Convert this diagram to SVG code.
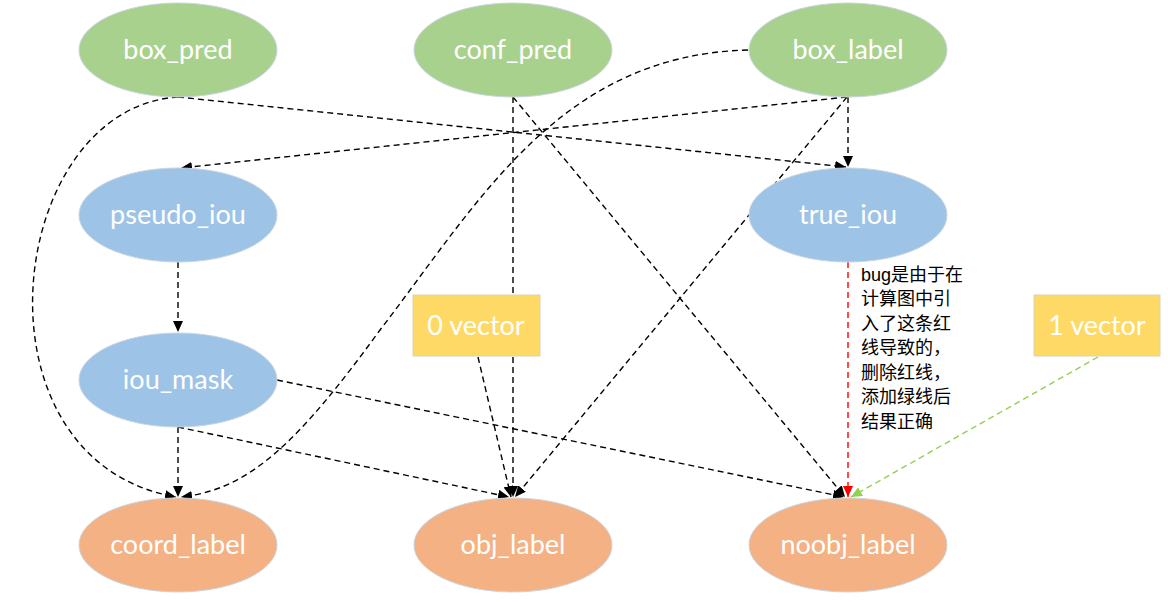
<svg xmlns="http://www.w3.org/2000/svg" width="1168" height="602" viewBox="0 0 1168 602">
<style>
.n ellipse{stroke:#c8d4e0;stroke-width:1}
.g{fill:#A9D18E}.b{fill:#9DC3E6}.o{fill:#F4B183}
.t{font-family:Lato,"Liberation Sans",sans-serif;font-size:27px;fill:#fff;text-anchor:middle}
.c path,.c line{fill:none;stroke:#000;stroke-width:1.4;stroke-dasharray:6,4}
.vec{fill:#FFD966;stroke:#d9d2b8;stroke-width:1}
.note{font-family:"Liberation Sans","Noto Sans CJK SC",sans-serif;font-size:18px;fill:#000}
</style>
<defs>
<marker id="ah" markerUnits="userSpaceOnUse" markerWidth="12" markerHeight="10" refX="11" refY="5" orient="auto"><path d="M0,0 L11,5 L0,10 z" fill="#000"/></marker>
<marker id="ahr" markerUnits="userSpaceOnUse" markerWidth="12" markerHeight="10" refX="11" refY="5" orient="auto"><path d="M0,0 L11,5 L0,10 z" fill="#FF0000"/></marker>
<marker id="ahg" markerUnits="userSpaceOnUse" markerWidth="12" markerHeight="10" refX="11" refY="5" orient="auto"><path d="M0,0 L11,5 L0,10 z" fill="#92D050"/></marker>
</defs>
<rect width="1168" height="602" fill="#fff"/>
<g class="c" id="connectors">
<line x1="178" y1="97" x2="846" y2="167" marker-end="url(#ah)"/>
<path d="M178,97 C5,108 -35,460 176,497" marker-end="url(#ah)"/>
<line x1="847" y1="97" x2="181" y2="168" marker-end="url(#ah)"/>
<line x1="848" y1="97" x2="848" y2="167" marker-end="url(#ah)"/>
<line x1="847" y1="97" x2="515" y2="497" marker-end="url(#ah)"/>
<path d="M748,50 C560,55 480,200 380,330 C300,440 250,490 181,497" marker-end="url(#ah)"/>
<line x1="513" y1="97" x2="513" y2="497" marker-end="url(#ah)"/>
<line x1="513" y1="97" x2="845" y2="497" marker-end="url(#ah)"/>
<line x1="178" y1="262" x2="178" y2="332" marker-end="url(#ah)"/>
<line x1="178" y1="427" x2="178" y2="497" marker-end="url(#ah)"/>
<line x1="178" y1="427" x2="509" y2="497" marker-end="url(#ah)"/>
<line x1="277" y1="380" x2="844" y2="497" marker-end="url(#ah)"/>
<line x1="478" y1="357" x2="511" y2="497" marker-end="url(#ah)"/>
<line x1="848" y1="262" x2="848" y2="497" style="stroke:#FF0000" marker-end="url(#ahr)"/>
<line x1="1098" y1="357" x2="851" y2="497" style="stroke:#92D050" marker-end="url(#ahg)"/>
</g>
<g class="n" id="box_pred"><ellipse class="g" cx="178" cy="50" rx="99" ry="47"/><text class="t" x="178" y="59">box_pred</text></g>
<g class="n" id="conf_pred"><ellipse class="g" cx="513" cy="50" rx="99" ry="47"/><text class="t" x="513" y="59">conf_pred</text></g>
<g class="n" id="box_label"><ellipse class="g" cx="848" cy="50" rx="99" ry="47"/><text class="t" x="848" y="59">box_label</text></g>
<g class="n" id="pseudo_iou"><ellipse class="b" cx="178" cy="215" rx="99" ry="47"/><text class="t" x="178" y="224">pseudo_iou</text></g>
<g class="n" id="true_iou"><ellipse class="b" cx="848" cy="215" rx="99" ry="47"/><text class="t" x="848" y="224">true_iou</text></g>
<g class="n" id="iou_mask"><ellipse class="b" cx="178" cy="380" rx="99" ry="47"/><text class="t" x="178" y="389">iou_mask</text></g>
<g class="n" id="coord_label"><ellipse class="o" cx="178" cy="545" rx="99" ry="47"/><text class="t" x="178" y="554">coord_label</text></g>
<g class="n" id="obj_label"><ellipse class="o" cx="513" cy="545" rx="99" ry="47"/><text class="t" x="513" y="554">obj_label</text></g>
<g class="n" id="noobj_label"><ellipse class="o" cx="848" cy="545" rx="99" ry="47"/><text class="t" x="848" y="554">noobj_label</text></g>
<g id="vec0"><rect class="vec" x="413" y="295" width="127" height="61"/><text class="t" x="476" y="335">0 vector</text></g>
<g id="vec1"><rect class="vec" x="1034" y="295" width="126" height="61"/><text class="t" x="1097" y="335">1 vector</text></g>
<g id="note">
<text class="note" x="861" y="281">bug是由于在</text>
<text class="note" x="861" y="305">计算图中引</text>
<text class="note" x="861" y="330">入了这条红</text>
<text class="note" x="861" y="354">线导致的，</text>
<text class="note" x="861" y="379">删除红线，</text>
<text class="note" x="861" y="403">添加绿线后</text>
<text class="note" x="861" y="428">结果正确</text>
</g>
</svg>
